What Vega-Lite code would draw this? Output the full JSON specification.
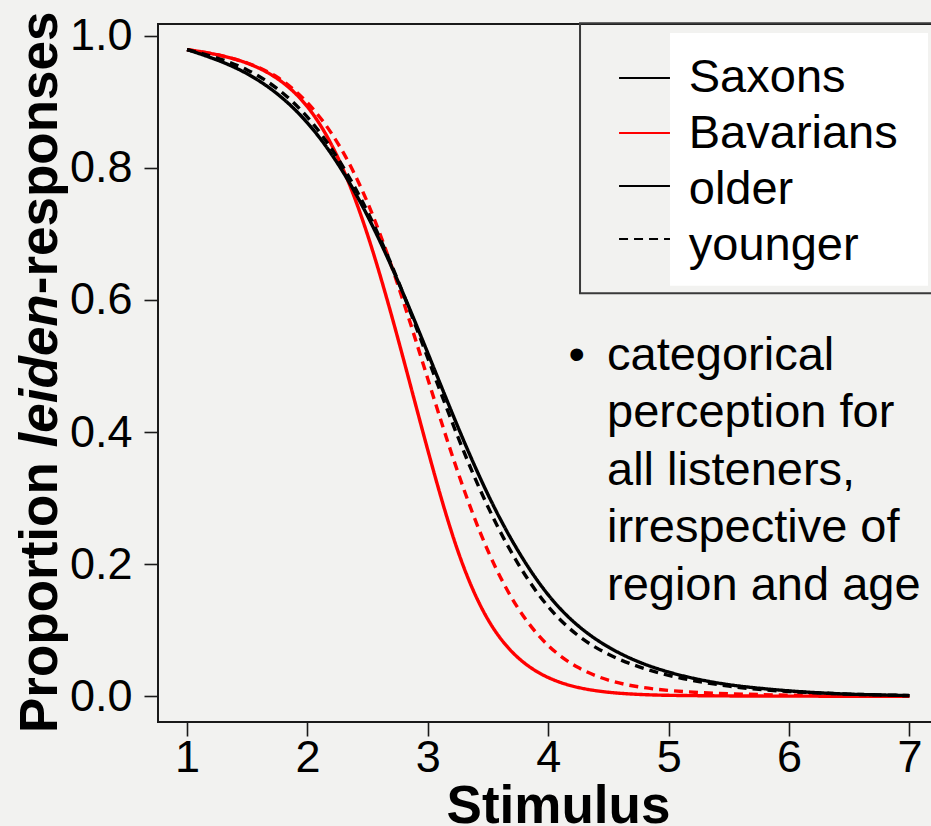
{
  "$schema": "https://vega.github.io/schema/vega-lite/v6.json",
  "width": 780,
  "height": 698,
  "autosize": {"type": "none"},
  "padding": {"left": 158, "top": 24, "right": 0, "bottom": 104},
  "background": "#f2f2f0",
  "config": {
    "view": {"stroke": "#1a1a1a", "strokeWidth": 2},
    "font": "Liberation Sans",
    "axis": {
      "domain": false,
      "grid": false,
      "ticks": true,
      "tickSize": 14,
      "tickWidth": 1.6,
      "tickColor": "#1a1a1a",
      "labelFont": "Liberation Sans",
      "labelFontSize": 45,
      "labelColor": "#000000",
      "titleFont": "Liberation Sans",
      "titleColor": "#000000"
    }
  },
  "datasets": {
    "curves": [
      {"x": 1.0, "p": 0.979, "region": "Bavarians", "age": "older"},
      {"x": 1.25, "p": 0.972, "region": "Bavarians", "age": "older"},
      {"x": 1.5, "p": 0.96, "region": "Bavarians", "age": "older"},
      {"x": 1.75, "p": 0.938, "region": "Bavarians", "age": "older"},
      {"x": 2.0, "p": 0.898, "region": "Bavarians", "age": "older"},
      {"x": 2.25, "p": 0.824, "region": "Bavarians", "age": "older"},
      {"x": 2.5, "p": 0.705, "region": "Bavarians", "age": "older"},
      {"x": 2.75, "p": 0.545, "region": "Bavarians", "age": "older"},
      {"x": 3.0, "p": 0.37, "region": "Bavarians", "age": "older"},
      {"x": 3.25, "p": 0.21, "region": "Bavarians", "age": "older"},
      {"x": 3.5, "p": 0.108, "region": "Bavarians", "age": "older"},
      {"x": 3.75, "p": 0.054, "region": "Bavarians", "age": "older"},
      {"x": 4.0, "p": 0.026, "region": "Bavarians", "age": "older"},
      {"x": 4.25, "p": 0.012, "region": "Bavarians", "age": "older"},
      {"x": 4.5, "p": 0.0055, "region": "Bavarians", "age": "older"},
      {"x": 4.75, "p": 0.0025, "region": "Bavarians", "age": "older"},
      {"x": 5.0, "p": 0.0012, "region": "Bavarians", "age": "older"},
      {"x": 5.5, "p": 0.0004, "region": "Bavarians", "age": "older"},
      {"x": 6.0, "p": 0.0001, "region": "Bavarians", "age": "older"},
      {"x": 7.0, "p": 0.0, "region": "Bavarians", "age": "older"},

      {"x": 1.0, "p": 0.979, "region": "Bavarians", "age": "younger"},
      {"x": 1.25, "p": 0.972, "region": "Bavarians", "age": "younger"},
      {"x": 1.5, "p": 0.96, "region": "Bavarians", "age": "younger"},
      {"x": 1.75, "p": 0.94, "region": "Bavarians", "age": "younger"},
      {"x": 2.0, "p": 0.902, "region": "Bavarians", "age": "younger"},
      {"x": 2.25, "p": 0.843, "region": "Bavarians", "age": "younger"},
      {"x": 2.5, "p": 0.753, "region": "Bavarians", "age": "younger"},
      {"x": 2.75, "p": 0.627, "region": "Bavarians", "age": "younger"},
      {"x": 3.0, "p": 0.48, "region": "Bavarians", "age": "younger"},
      {"x": 3.25, "p": 0.335, "region": "Bavarians", "age": "younger"},
      {"x": 3.5, "p": 0.214, "region": "Bavarians", "age": "younger"},
      {"x": 3.75, "p": 0.128, "region": "Bavarians", "age": "younger"},
      {"x": 4.0, "p": 0.073, "region": "Bavarians", "age": "younger"},
      {"x": 4.25, "p": 0.041, "region": "Bavarians", "age": "younger"},
      {"x": 4.5, "p": 0.023, "region": "Bavarians", "age": "younger"},
      {"x": 4.75, "p": 0.0135, "region": "Bavarians", "age": "younger"},
      {"x": 5.0, "p": 0.0085, "region": "Bavarians", "age": "younger"},
      {"x": 5.25, "p": 0.0055, "region": "Bavarians", "age": "younger"},
      {"x": 5.5, "p": 0.0037, "region": "Bavarians", "age": "younger"},
      {"x": 5.75, "p": 0.0025, "region": "Bavarians", "age": "younger"},
      {"x": 6.0, "p": 0.0016, "region": "Bavarians", "age": "younger"},
      {"x": 6.5, "p": 0.0007, "region": "Bavarians", "age": "younger"},
      {"x": 7.0, "p": 0.0003, "region": "Bavarians", "age": "younger"},

      {"x": 1.0, "p": 0.979, "region": "Saxons", "age": "younger"},
      {"x": 1.25, "p": 0.967, "region": "Saxons", "age": "younger"},
      {"x": 1.5, "p": 0.95, "region": "Saxons", "age": "younger"},
      {"x": 1.75, "p": 0.922, "region": "Saxons", "age": "younger"},
      {"x": 2.0, "p": 0.88, "region": "Saxons", "age": "younger"},
      {"x": 2.25, "p": 0.818, "region": "Saxons", "age": "younger"},
      {"x": 2.5, "p": 0.737, "region": "Saxons", "age": "younger"},
      {"x": 2.75, "p": 0.633, "region": "Saxons", "age": "younger"},
      {"x": 3.0, "p": 0.512, "region": "Saxons", "age": "younger"},
      {"x": 3.25, "p": 0.39, "region": "Saxons", "age": "younger"},
      {"x": 3.5, "p": 0.283, "region": "Saxons", "age": "younger"},
      {"x": 3.75, "p": 0.197, "region": "Saxons", "age": "younger"},
      {"x": 4.0, "p": 0.132, "region": "Saxons", "age": "younger"},
      {"x": 4.25, "p": 0.089, "region": "Saxons", "age": "younger"},
      {"x": 4.5, "p": 0.062, "region": "Saxons", "age": "younger"},
      {"x": 4.75, "p": 0.044, "region": "Saxons", "age": "younger"},
      {"x": 5.0, "p": 0.031, "region": "Saxons", "age": "younger"},
      {"x": 5.25, "p": 0.022, "region": "Saxons", "age": "younger"},
      {"x": 5.5, "p": 0.015, "region": "Saxons", "age": "younger"},
      {"x": 5.75, "p": 0.01, "region": "Saxons", "age": "younger"},
      {"x": 6.0, "p": 0.007, "region": "Saxons", "age": "younger"},
      {"x": 6.25, "p": 0.005, "region": "Saxons", "age": "younger"},
      {"x": 6.5, "p": 0.003, "region": "Saxons", "age": "younger"},
      {"x": 6.75, "p": 0.002, "region": "Saxons", "age": "younger"},
      {"x": 7.0, "p": 0.001, "region": "Saxons", "age": "younger"},

      {"x": 1.0, "p": 0.979, "region": "Saxons", "age": "older"},
      {"x": 1.25, "p": 0.964, "region": "Saxons", "age": "older"},
      {"x": 1.5, "p": 0.944, "region": "Saxons", "age": "older"},
      {"x": 1.75, "p": 0.914, "region": "Saxons", "age": "older"},
      {"x": 2.0, "p": 0.871, "region": "Saxons", "age": "older"},
      {"x": 2.25, "p": 0.81, "region": "Saxons", "age": "older"},
      {"x": 2.5, "p": 0.73, "region": "Saxons", "age": "older"},
      {"x": 2.75, "p": 0.631, "region": "Saxons", "age": "older"},
      {"x": 3.0, "p": 0.52, "region": "Saxons", "age": "older"},
      {"x": 3.25, "p": 0.406, "region": "Saxons", "age": "older"},
      {"x": 3.5, "p": 0.302, "region": "Saxons", "age": "older"},
      {"x": 3.75, "p": 0.217, "region": "Saxons", "age": "older"},
      {"x": 4.0, "p": 0.15, "region": "Saxons", "age": "older"},
      {"x": 4.25, "p": 0.104, "region": "Saxons", "age": "older"},
      {"x": 4.5, "p": 0.073, "region": "Saxons", "age": "older"},
      {"x": 4.75, "p": 0.051, "region": "Saxons", "age": "older"},
      {"x": 5.0, "p": 0.036, "region": "Saxons", "age": "older"},
      {"x": 5.25, "p": 0.025, "region": "Saxons", "age": "older"},
      {"x": 5.5, "p": 0.017, "region": "Saxons", "age": "older"},
      {"x": 5.75, "p": 0.012, "region": "Saxons", "age": "older"},
      {"x": 6.0, "p": 0.008, "region": "Saxons", "age": "older"},
      {"x": 6.25, "p": 0.005, "region": "Saxons", "age": "older"},
      {"x": 6.5, "p": 0.003, "region": "Saxons", "age": "older"},
      {"x": 6.75, "p": 0.002, "region": "Saxons", "age": "older"},
      {"x": 7.0, "p": 0.001, "region": "Saxons", "age": "older"}
    ]
  },
  "layer": [
    {
      "data": {"values": [{"x1": 4.264, "x2": 7.237, "y1": 1.0188, "y2": 0.61}]},
      "mark": {"type": "rect", "fill": null, "fillOpacity": 0, "stroke": "#3a3a3a", "strokeWidth": 2},
      "encoding": {
        "x": {"field": "x1", "type": "quantitative"},
        "x2": {"field": "x2"},
        "y": {"field": "y1", "type": "quantitative"},
        "y2": {"field": "y2"}
      }
    },
    {
      "data": {"name": "curves"},
      "mark": {"type": "line", "strokeWidth": 3.4, "interpolate": "basis"},
      "encoding": {
        "x": {
          "field": "x", "type": "quantitative",
          "scale": {"domain": [0.759, 7.237], "nice": false, "zero": false},
          "axis": {
            "values": [1, 2, 3, 4, 5, 6, 7],
            "format": "d",
            "labelPadding": -1,
            "title": "Stimulus",
            "titleFontSize": 53,
            "titleFontWeight": "bold",
            "titleBaseline": "alphabetic",
            "titleX": 400,
            "titleY": 100
          }
        },
        "y": {
          "field": "p", "type": "quantitative",
          "scale": {"domain": [-0.039, 1.0177], "nice": false, "zero": false},
          "axis": {
            "values": [0, 0.2, 0.4, 0.6, 0.8, 1.0],
            "format": ".1f",
            "labelPadding": 12,
            "title": null
          }
        },
        "color": {
          "field": "region", "type": "nominal",
          "scale": {"domain": ["Saxons", "Bavarians"], "range": ["#000000", "#ff0000"]},
          "legend": null
        },
        "strokeDash": {
          "field": "age", "type": "nominal",
          "scale": {"domain": ["older", "younger"], "range": [[1, 0], [9, 6]]},
          "legend": null
        }
      }
    },
    {
      "data": {"values": [{"x1": 5.011, "x2": 7.154, "y1": 1.0041, "y2": 0.6213}]},
      "mark": {"type": "rect", "fill": "#ffffff", "stroke": null},
      "encoding": {
        "x": {"field": "x1", "type": "quantitative"},
        "x2": {"field": "x2"},
        "y": {"field": "y1", "type": "quantitative"},
        "y2": {"field": "y2"}
      }
    },
    {
      "data": {"values": [
        {"label": "Saxons", "region": "Saxons", "age": "older", "sx": 4.588, "ex": 5.011, "ly": 0.936},
        {"label": "Bavarians", "region": "Bavarians", "age": "older", "sx": 4.588, "ex": 5.011, "ly": 0.8527},
        {"label": "older", "region": "Saxons", "age": "older", "sx": 4.588, "ex": 5.011, "ly": 0.7725},
        {"label": "younger", "region": "Saxons", "age": "younger", "sx": 4.588, "ex": 5.011, "ly": 0.6922}
      ]},
      "mark": {"type": "rule", "strokeWidth": 2},
      "encoding": {
        "x": {"field": "sx", "type": "quantitative"},
        "x2": {"field": "ex"},
        "y": {"field": "ly", "type": "quantitative"},
        "color": {"field": "region", "type": "nominal", "legend": null},
        "strokeDash": {"field": "age", "type": "nominal", "legend": null}
      }
    },
    {
      "data": {"values": [
        {"label": "Saxons", "tx": 5.167, "ty": 0.9147},
        {"label": "Bavarians", "tx": 5.167, "ty": 0.8307},
        {"label": "older", "tx": 5.167, "ty": 0.7451},
        {"label": "younger", "tx": 5.167, "ty": 0.6609}
      ]},
      "mark": {"type": "text", "align": "left", "baseline": "alphabetic", "fontSize": 47, "font": "Liberation Sans", "color": "#000000"},
      "encoding": {
        "x": {"field": "tx", "type": "quantitative"},
        "y": {"field": "ty", "type": "quantitative"},
        "text": {"field": "label"}
      }
    },
    {
      "data": {"values": [
        {"note": "categorical\nperception for\nall listeners,\nirrespective of\nregion and age", "tx": 4.488, "ty": 0.4939}
      ]},
      "mark": {"type": "text", "align": "left", "baseline": "alphabetic", "fontSize": 47, "font": "Liberation Sans", "lineBreak": "\n", "lineHeight": 57.5, "color": "#000000"},
      "encoding": {
        "x": {"field": "tx", "type": "quantitative"},
        "y": {"field": "ty", "type": "quantitative"},
        "text": {"field": "note"}
      }
    },
    {
      "data": {"values": [{"b": "•", "tx": 4.168, "ty": 0.4939}]},
      "mark": {"type": "text", "align": "left", "baseline": "alphabetic", "fontSize": 47, "font": "Liberation Sans", "color": "#000000"},
      "encoding": {
        "x": {"field": "tx", "type": "quantitative"},
        "y": {"field": "ty", "type": "quantitative"},
        "text": {"field": "b"}
      }
    },
    {
      "data": {"values": [
        {"t": "Proportion", "tx": -0.08, "ty": -0.0557},
        {"t": "-responses", "tx": -0.08, "ty": 0.6086}
      ]},
      "mark": {"type": "text", "align": "left", "baseline": "alphabetic", "angle": 270, "fontSize": 53, "fontWeight": "bold", "font": "Liberation Sans", "color": "#000000"},
      "encoding": {
        "x": {"field": "tx", "type": "quantitative"},
        "y": {"field": "ty", "type": "quantitative"},
        "text": {"field": "t"}
      }
    },
    {
      "data": {"values": [{"t": "leiden", "tx": -0.08, "ty": 0.3767}]},
      "mark": {"type": "text", "align": "left", "baseline": "alphabetic", "angle": 270, "fontSize": 53, "fontWeight": "bold", "fontStyle": "italic", "font": "Liberation Sans", "color": "#000000"},
      "encoding": {
        "x": {"field": "tx", "type": "quantitative"},
        "y": {"field": "ty", "type": "quantitative"},
        "text": {"field": "t"}
      }
    }
  ]
}
